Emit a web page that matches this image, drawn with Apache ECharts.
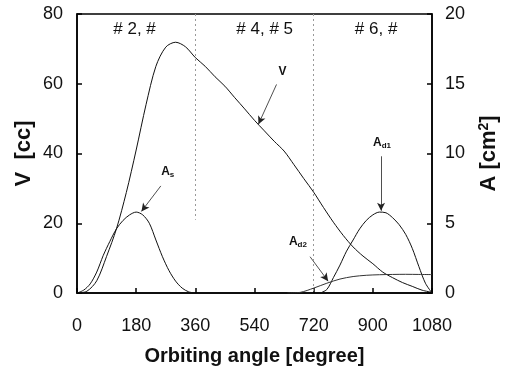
<!DOCTYPE html>
<html>
<head>
<meta charset="utf-8">
<script src="https://cdn.jsdelivr.net/npm/echarts@6/dist/echarts.min.js"></script>
<style>
  html, body { margin: 0; padding: 0; background: #fff; }
  #main { width: 508px; height: 371px; }
</style>
</head>
<body>
<div id="main"></div>
<script>
// orbiting angle ticks
var xTicks = [0, 180, 360, 540, 720, 900, 1080];

// V [cc]
var vAngles = [0, 30, 60, 90, 120, 150, 180, 210, 240, 270, 300, 330, 360, 390, 420, 450, 480, 510, 540,
  570, 600, 630, 660, 690, 720, 750, 780, 810, 840, 870, 900, 930, 960, 990, 1020, 1050, 1080];
var vValues = [0, 0.5, 3.5, 10.5, 18.4, 28.8, 41, 54, 65, 70.5, 71.9, 70.6, 67.5, 65, 62, 59.3, 56, 52.8, 49.5,
  46.5, 43.5, 40.7, 36.8, 32.8, 28.9, 24.5, 20.3, 16.5, 13.2, 10.6, 8.4, 6.0, 4.4, 3.0, 1.9, 0.8, 0.2];

// A_s [cm2]
var asAngles = [0, 20, 40, 60, 80, 100, 120, 140, 160, 180, 200, 220, 240, 260, 280, 300, 320, 340, 360];
var asValues = [0, 0.2, 0.65, 1.5, 2.7, 3.7, 4.6, 5.2, 5.6, 5.8, 5.6, 5.0, 3.8, 2.6, 1.6, 0.85, 0.35, 0.08, 0];

// A_d1 [cm2]
var ad1Angles = [740, 760, 780, 800, 820, 840, 860, 880, 900, 920, 940, 960, 980, 1000, 1020, 1040, 1060, 1080];
var ad1Values = [0, 0.25, 1.1, 2.0, 3.0, 3.8, 4.6, 5.2, 5.6, 5.8, 5.75, 5.4, 4.9, 4.2, 3.2, 1.9, 0.7, 0];

// A_d2 [cm2]
var ad2Angles = [640, 680, 720, 760, 800, 840, 880, 920, 960, 1000, 1040, 1080];
var ad2Values = [0, 0.05, 0.35, 0.7, 1.0, 1.18, 1.27, 1.31, 1.33, 1.34, 1.33, 1.32];

// port section labels
var sectionLabels = ['# 2, #', '# 4, # 5', '# 6, #'];
var sectionAngles = [175, 571, 910];

function pairs(xs, ys) {
  return xs.map(function (x, i) { return [x, ys[i]]; });
}

var chart = echarts.init(document.getElementById('main'));

var fontFam = '"Liberation Sans", Arial, sans-serif';
var lineStyleBase = { color: '#111', width: 1 };

// arrows: [from, to] in (angle, cc)
var arrows = [
  [[607, 59.8], [552, 48.4]],
  [[255, 30.7], [196, 23.4]],
  [[925, 39.2], [925, 23.6]],
  [[709, 10.4], [764, 3.4]]
];
var arrowLines = arrows.map(function (a) {
  return [
    { coord: a[0], symbol: 'none' },
    { coord: a[1], symbol: 'arrow', symbolSize: [6, 8] }
  ];
});
// dashed section dividers: [angle, top cc, bottom cc]
var dividers = [[360, 80, 21], [720, 80, 0.5]];

var labelRich = {
  b: { fontFamily: fontFam, fontWeight: 'bold', fontSize: 12, color: '#111' },
  s: { fontFamily: fontFam, fontWeight: 'bold', fontSize: 8, color: '#111', padding: [6, 0, 0, 0] }
};
var curveLabels = [
  { coord: [625, 63.5], text: '{b|V}' },
  { coord: [276, 34.7], text: '{b|A}{s|s}' },
  { coord: [928, 43.2], text: '{b|A}{s|d1}' },
  { coord: [672, 14.7], text: '{b|A}{s|d2}' }
];

var points = curveLabels.map(function (c) {
  return {
    coord: c.coord,
    label: { show: true, position: 'inside', formatter: c.text, rich: labelRich }
  };
});
sectionLabels.forEach(function (t, i) {
  points.push({
    coord: [sectionAngles[i], 75.5],
    label: { show: true, position: 'inside', formatter: t, fontFamily: fontFam, fontSize: 17, color: '#111' }
  });
});

var option = {
  animation: false,
  backgroundColor: '#fff',
  grid: {
    left: 77, right: 71, top: 14, bottom: 77,
    show: true, borderColor: '#000', borderWidth: 1.5, backgroundColor: 'transparent'
  },
  xAxis: {
    type: 'value',
    min: 0, max: 1080, interval: 180,
    name: 'Orbiting angle [degree]',
    nameLocation: 'middle',
    nameGap: 53,
    nameTextStyle: { fontFamily: fontFam, fontWeight: 'bold', fontSize: 20, color: '#111' },
    axisLine: { lineStyle: { color: '#000', width: 1.5 } },
    axisTick: { inside: true, length: 5, lineStyle: { color: '#000', width: 1.5 } },
    axisLabel: {
      margin: 24, fontFamily: fontFam, fontSize: 18, color: '#111',
      formatter: function (v) { return xTicks.indexOf(v) >= 0 ? String(v) : ''; }
    },
    splitLine: { show: false }
  },
  yAxis: [
    {
      type: 'value', min: 0, max: 80, interval: 20,
      name: 'V  [cc]',
      nameLocation: 'middle', nameRotate: 90, nameGap: 42, nameMoveOverlap: false,
      nameTextStyle: { fontFamily: fontFam, fontWeight: 'bold', fontSize: 22, color: '#111' },
      axisLine: { show: true, lineStyle: { color: '#000', width: 1.5 } },
      axisTick: { inside: true, length: 5, lineStyle: { color: '#000', width: 1.5 } },
      axisLabel: { margin: 14, fontFamily: fontFam, fontSize: 18, color: '#111' },
      splitLine: { show: false }
    },
    {
      type: 'value', min: 0, max: 20, interval: 5, position: 'right',
      name: '{n|A [cm}{sup|2}{n|]}',
      nameLocation: 'middle', nameRotate: 90, nameGap: 45,
      nameTextStyle: {
        rich: {
          n: { fontFamily: fontFam, fontWeight: 'bold', fontSize: 22, color: '#111' },
          sup: { fontFamily: fontFam, fontWeight: 'bold', fontSize: 14, color: '#111', padding: [0, 0, 10, 0] }
        }
      },
      axisLine: { show: true, lineStyle: { color: '#000', width: 1.5 } },
      axisTick: { inside: true, length: 5, lineStyle: { color: '#000', width: 1.5 } },
      axisLabel: { margin: 13, fontFamily: fontFam, fontSize: 18, color: '#111' },
      splitLine: { show: false }
    }
  ],
  series: [
    {
      name: 'V', type: 'line', yAxisIndex: 0,
      data: pairs(vAngles, vValues),
      smooth: 0.3, showSymbol: false,
      lineStyle: lineStyleBase,
      markLine: {
        silent: true, animation: false,
        label: { show: false },
        lineStyle: { color: '#222', width: 0.8, type: 'solid' },
        data: arrowLines
      },
      markPoint: {
        silent: true, symbol: 'circle', symbolSize: 1,
        itemStyle: { color: 'rgba(0,0,0,0)' },
        data: points
      }
    },
    {
      name: 'As', type: 'line', yAxisIndex: 1,
      data: pairs(asAngles, asValues),
      smooth: 0.3, showSymbol: false,
      lineStyle: lineStyleBase,
      markLine: {
        silent: true, animation: false,
        label: { show: false },
        lineStyle: { color: '#999', width: 1, type: [2, 3] },
        data: dividers.map(function (d) {
          return [
            { coord: [d[0], d[1] / 4], symbol: 'none' },
            { coord: [d[0], d[2] / 4], symbol: 'none' }
          ];
        })
      }
    },
    {
      name: 'Ad1', type: 'line', yAxisIndex: 1,
      data: pairs(ad1Angles, ad1Values),
      smooth: 0.3, showSymbol: false,
      lineStyle: lineStyleBase
    },
    {
      name: 'Ad2', type: 'line', yAxisIndex: 1,
      data: pairs(ad2Angles, ad2Values),
      smooth: 0.3, showSymbol: false,
      lineStyle: { color: '#333', width: 1 }
    }
  ]
};

chart.setOption(option);
</script>
</body>
</html>
